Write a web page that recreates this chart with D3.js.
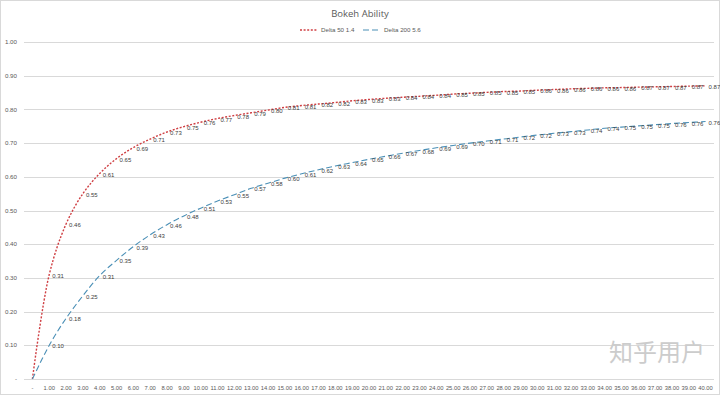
<!DOCTYPE html>
<html>
<head>
<meta charset="utf-8">
<script src="https://cdn.jsdelivr.net/npm/d3@7"></script>
<style>
  body { margin: 0; background: #fff; font-family: "Open Sans", "Liberation Sans", sans-serif; }
  svg { display: block; }
</style>
</head>
<body>
<div id="root"></div>
<script>
// f-number steps on the x axis (labels show them rounded to 2 places)
const categories = d3.range(0, 41);
const delta50 = [0, 0.310, 0.460, 0.550, 0.610, 0.654, 0.687, 0.712, 0.733, 0.749, 0.762,
  0.773, 0.782, 0.790, 0.798, 0.806, 0.8115, 0.816, 0.8205, 0.8255, 0.8295,
  0.833, 0.836, 0.839, 0.842, 0.8455, 0.848, 0.8505, 0.853, 0.8545, 0.857,
  0.859, 0.861, 0.8625, 0.864, 0.8648, 0.866, 0.867, 0.868, 0.869, 0.870];
const delta200 = [0, 0.100, 0.180, 0.247, 0.307, 0.352, 0.393, 0.428, 0.458, 0.484, 0.507,
  0.528, 0.547, 0.566, 0.581, 0.596, 0.609, 0.621, 0.632, 0.642, 0.652,
  0.661, 0.670, 0.678, 0.686, 0.693, 0.700, 0.706, 0.712, 0.718, 0.724,
  0.729, 0.734, 0.739, 0.744, 0.7475, 0.751, 0.7545, 0.758, 0.761, 0.764];
const yTicks = [0, 0.1, 0.2, 0.3, 0.4, 0.5, 0.6, 0.7, 0.8, 0.9, 1.0];

const width = 720, height = 395;
const plotLeft = 24, plotRight = 714, plotTop = 42, plotBottom = 379;

const svg = d3.select("#root").append("svg")
  .attr("width", width)
  .attr("height", height);

svg.append("rect")
  .attr("x", 0.5).attr("y", 0.5)
  .attr("width", width - 1).attr("height", height - 1)
  .attr("fill", "#fff")
  .attr("stroke", "#d9d9d9");

const x = d3.scaleBand().domain(categories).range([plotLeft, plotRight]);
const y = d3.scaleLinear().domain([0, 1]).range([plotBottom, plotTop]);
const cx = d => x(d) + x.bandwidth() / 2;

// gridlines
svg.append("g")
  .selectAll("line")
  .data(yTicks)
  .join("line")
    .attr("x1", plotLeft).attr("x2", plotRight)
    .attr("y1", d => Math.round(y(d)) + 0.5)
    .attr("y2", d => Math.round(y(d)) + 0.5)
    .attr("stroke", "#d9d9d9")
    .attr("stroke-width", 1);

// y axis labels
svg.append("g")
  .selectAll("text")
  .data(yTicks)
  .join("text")
    .attr("x", 17)
    .attr("y", d => y(d))
    .attr("dy", "0.35em")
    .attr("text-anchor", "end")
    .attr("font-family", "Liberation Sans")
    .attr("font-size", 6.2)
    .attr("fill", "#595959")
    .text(d => d === 0 ? "-" : d.toFixed(2));

// x axis labels
svg.append("g")
  .selectAll("text")
  .data(categories)
  .join("text")
    .attr("x", d => cx(d))
    .attr("y", 388)
    .attr("dy", "0.35em")
    .attr("text-anchor", "middle")
    .attr("font-family", "Liberation Sans")
    .attr("font-size", 5.8)
    .attr("fill", "#595959")
    .text(d => d === 0 ? "-" : d.toFixed(2));

const series = [
  { name: "Delta 50 1.4", values: delta50, color: "#cf3f43", dash: "2,1.6", width: 1.4 },
  { name: "Delta 200 5.6", values: delta200, color: "#4a8fb6", dash: "6,3", width: 1.1 }
];

const line = d3.line()
  .x((d, i) => cx(categories[i]))
  .y(d => y(d))
  .curve(d3.curveCatmullRom.alpha(0.5));

series.forEach(s => {
  svg.append("path")
    .datum(s.values)
    .attr("d", line)
    .attr("fill", "none")
    .attr("stroke", s.color)
    .attr("stroke-width", s.width)
    .attr("stroke-dasharray", s.dash);

  svg.append("g")
    .selectAll("text")
    .data(s.values.slice(1))
    .join("text")
      .attr("x", (d, i) => cx(categories[i + 1]) + 3)
      .attr("y", d => y(d) + 1)
      .attr("dy", "0.35em")
      .attr("font-family", "Liberation Sans")
      .attr("font-size", 6)
      .attr("fill", "#404040")
      .text(d => d.toFixed(2));
});

// title
svg.append("text")
  .attr("x", 360).attr("y", 14)
  .attr("dy", "0.35em")
  .attr("text-anchor", "middle")
  .attr("font-size", 9.5)
  .attr("fill", "#595959")
  .text("Bokeh Ability");

// legend
const legend = svg.append("g");
const legendX = [300, 363];
series.forEach((s, i) => {
  legend.append("line")
    .attr("x1", legendX[i]).attr("x2", legendX[i] + 18)
    .attr("y1", 30).attr("y2", 30)
    .attr("stroke", s.color)
    .attr("stroke-width", s.width)
    .attr("stroke-dasharray", s.dash);
  legend.append("text")
    .attr("x", legendX[i] + 21).attr("y", 30)
    .attr("dy", "0.35em")
    .attr("font-family", "Liberation Sans")
    .attr("font-size", 6.2)
    .attr("fill", "#595959")
    .text(s.name);
});

// watermark
svg.append("text")
  .attr("x", 705).attr("y", 353)
  .attr("dy", "0.35em")
  .attr("text-anchor", "end")
  .attr("font-family", "Noto Sans CJK SC")
  .attr("font-size", 24)
  .attr("fill", "#cccccc")
  .text("知乎用户");
</script>
</body>
</html>
